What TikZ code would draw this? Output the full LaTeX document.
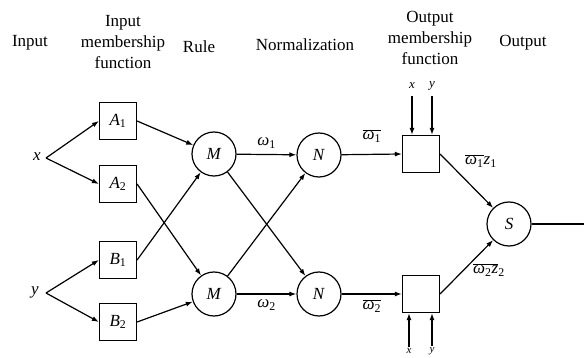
\documentclass[tikz,border=0pt]{standalone}
\usepackage{fontspec}
\setmainfont{Liberation Serif}
\usetikzlibrary{arrows.meta}
\newcommand{\om}[1]{\textit{ω}\textsubscript{#1}}
\begin{document}
\begin{tikzpicture}[x=1pt,y=-1pt,
  every node/.style={font=\fontsize{17}{21}\selectfont},
  head/.style={align=center},
  mbox/.style={draw, minimum size=37pt, inner sep=0pt, line width=1.2pt},
  circ/.style={draw, circle, minimum size=44pt, inner sep=0pt, line width=1.2pt},
  arr/.style={-{Latex[length=7pt,width=5pt]}, line width=1.2pt},
  ln/.style={line width=1.2pt},
  small/.style={font=\fontsize{13}{15}\selectfont, inner sep=1pt}]
\useasboundingbox (0,0) rectangle (584,358);
% headings
\node[head] (hIn) at (30,43) {Input};
\node[head] (hImf) at (123,42) {Input\\membership\\function};
\node[head] (hRule) at (199,47) {Rule};
\node[head] (hNorm) at (305,45) {Normalization};
\node[head] (hOmf) at (430,38) {Output\\membership\\function};
\node[head] (hOut) at (523,43) {Output};
% inputs
\node (x) at (37,157) {\textit{x}};
\node (y) at (35,292) {\textit{y}};
\coordinate (xs) at (46,158);
\coordinate (ys) at (46,293);
% boxes
\node[mbox] (A1) at (118,121) {\textit{A}\textsubscript{1}};
\node[mbox] (A2) at (118,184) {\textit{A}\textsubscript{2}};
\node[mbox] (B1) at (118,260) {\textit{B}\textsubscript{1}};
\node[mbox] (B2) at (118,322) {\textit{B}\textsubscript{2}};
\node[circ] (M1) at (214,154) {\textit{M}};
\node[circ] (M2) at (214,294) {\textit{M}};
\node[circ] (N1) at (319,155) {\textit{N}};
\node[circ] (N2) at (319,294) {\textit{N}};
\node[mbox] (O1) at (421,154) {};
\node[mbox] (O2) at (421,294) {};
\node[circ] (S) at (509,224) {\textit{S}};
\coordinate (end) at (584,224);
% input edges
\draw[arr] (xs) -- (A1.west);
\draw[arr] (xs) -- (A2.west);
\draw[arr] (ys) -- (B1.west);
\draw[arr] (ys) -- (B2.west);
\draw[arr] (A1.east) -- (M1);
\draw[arr] (A2.east) -- (M2);
\draw[arr] (B1.east) -- (M1);
\draw[arr] (B2.east) -- (M2);
% rule to normalization
\draw[arr] (M1) -- node[above=2pt] (w1) {\om{1}} (N1);
\draw[arr] (M2) -- node[below=2pt] (w2) {\om{2}} (N2);
\draw[arr] (M1) -- (N2);
\draw[arr] (M2) -- (N1);
% normalization to output mf
\draw[arr] (N1) -- node[above=8pt] (wb1) {$\overline{\hbox{\om{1}}}$} (O1.west);
\draw[arr] (N2) -- node[below=2pt] (wb2) {$\overline{\hbox{\om{2}}}$} (O2.west);
% to sum
\draw[arr] (O1.east) -- (S);
\draw[arr] (O2.east) -- (S);
\node (l1) at (481,161) {$\overline{\hbox{\om{1}}}$\textit{z}\textsubscript{1}};
\node (l2) at (489,270) {$\overline{\hbox{\om{2}\textit{z}}}$\textsubscript{2}};
\draw[ln] (S) -- (end);
% x,y inputs of output mf
\node[small] (tx) at (412,86) {\textit{x}};
\node[small] (ty) at (432,86) {\textit{y}};
\draw[arr] (tx.south |- 0,96) -- (tx.south |- O1.north);
\draw[arr] (ty.south |- 0,96) -- (ty.south |- O1.north);
\node[small, font=\fontsize{11}{13}\selectfont] (bx) at (409,351) {\textit{x}};
\node[small, font=\fontsize{11}{13}\selectfont] (by) at (432,351) {\textit{y}};
\draw[arr] (bx.north) -- (bx.north |- O2.south);
\draw[arr] (by.north) -- (by.north |- O2.south);
\end{tikzpicture}
\end{document}
